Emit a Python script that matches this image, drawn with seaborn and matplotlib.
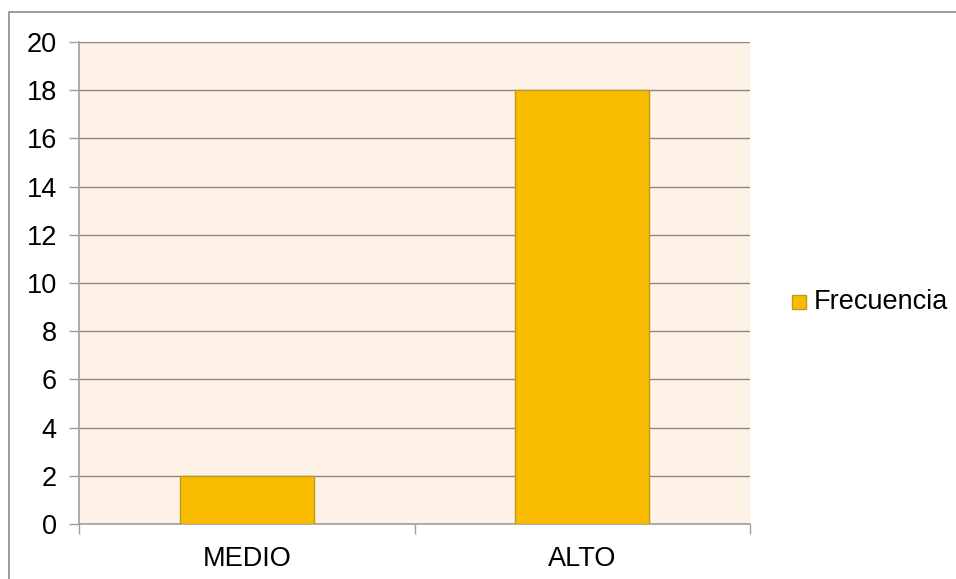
import pandas as pd
import seaborn as sns
import matplotlib.pyplot as plt
from matplotlib.patches import Rectangle

categorias = ["MEDIO", "ALTO"]
frecuencia = [2, 18]
serie = "Frecuencia"

data = pd.DataFrame({"Nivel": categorias, serie: frecuencia})

sns.set_theme(style="white")
plt.rcParams['font.family'] = ['Liberation Sans', 'DejaVu Sans']

fig = plt.figure(figsize=(9.56, 5.79), dpi=100)
ax = fig.add_axes([79 / 956, 1 - 524 / 579, (750 - 79) / 956, (524 - 42) / 579])

# outer chart border
fig.patches.append(Rectangle((9 / 956, -0.05), 1.05, 1 - 12 / 579 + 0.05,
                             transform=fig.transFigure, fill=False,
                             edgecolor='#8c8c8c', linewidth=1.2))

ax.set_facecolor('#fef2e6')
sns.barplot(data=data, x="Nivel", y=serie, color='#f9bc00', width=0.4,
            edgecolor='#c09a1a', linewidth=1, saturation=1, ax=ax, zorder=3)

ax.set_xlim(-0.5, 1.5)
ax.set_ylim(0, 20)
ax.set_yticks(range(0, 21, 2))
ax.yaxis.grid(True, color='#878787', linewidth=1, zorder=0)
ax.set_axisbelow(True)
ax.set_xlabel("")
ax.set_ylabel("")

for side in ['top', 'right']:
    ax.spines[side].set_visible(False)
for side in ['left', 'bottom']:
    ax.spines[side].set_color('#a0a0a0')
    ax.spines[side].set_linewidth(1.2)

ax.tick_params(axis='y', length=7, width=1, color='#a0a0a0', labelsize=19.5,
               labelcolor='black', pad=9, left=True)
ax.tick_params(axis='x', length=0, labelsize=19.5, labelcolor='black', pad=16)
# category boundary ticks on x axis
ax.set_xticks([-0.5, 0.5, 1.5], minor=True)
ax.tick_params(axis='x', which='minor', length=7, width=1, color='#a0a0a0', bottom=True)

fig.patches.append(Rectangle((792 / 956, 1 - 309 / 579), 14 / 956, 14 / 579,
                             transform=fig.transFigure, facecolor='#f9bc00',
                             edgecolor='#c09a1a', linewidth=1))
fig.text(814 / 956, 1 - 302 / 579, serie, fontsize=19.5, va='center', ha='left',
         color='black')

fig.savefig("out.png", dpi=100)
